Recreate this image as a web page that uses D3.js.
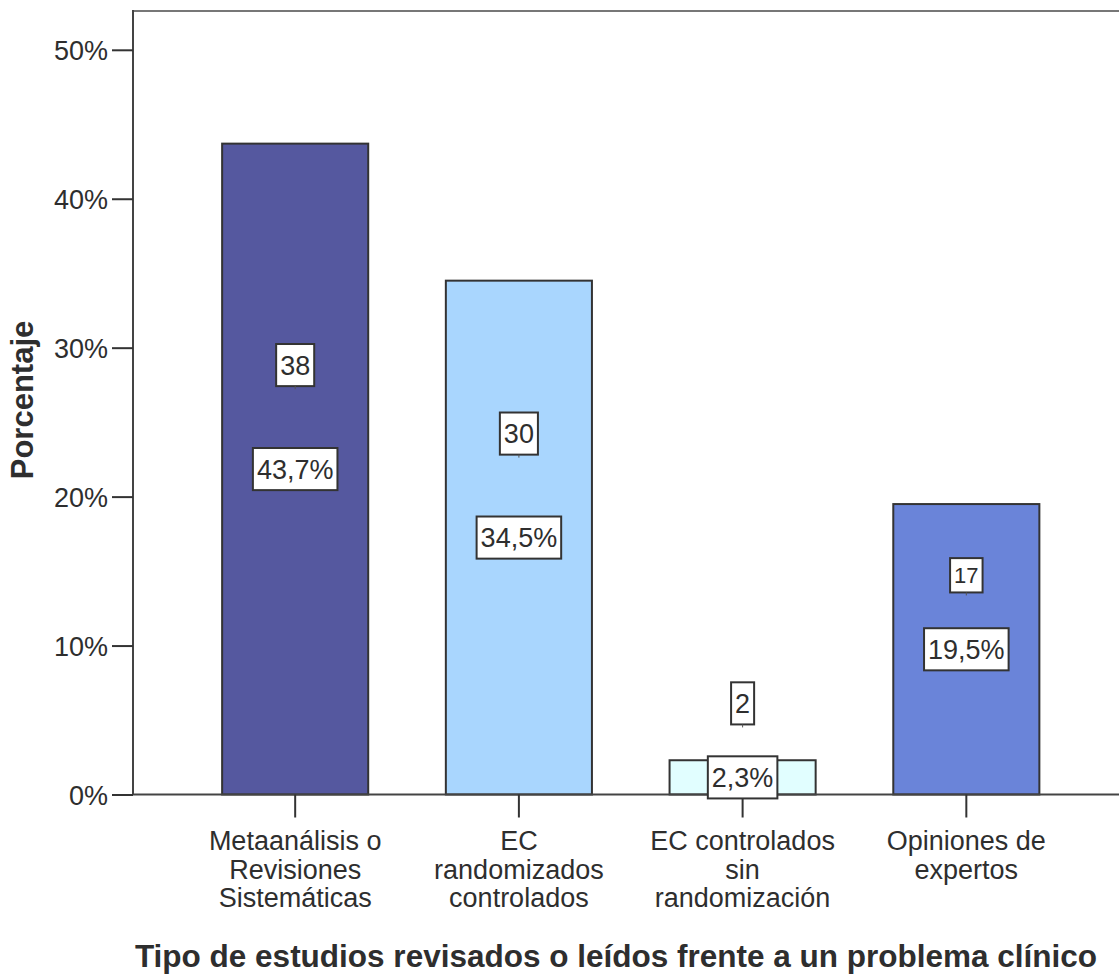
<!DOCTYPE html>
<html>
<head>
<meta charset="utf-8">
<script src="https://cdn.jsdelivr.net/npm/d3@7"></script>
<style>
  html, body { margin: 0; padding: 0; background: #fff; }
  svg { display: block; }
  text { font-family: "Liberation Sans", Arial, sans-serif; fill: #2e2e2e; }
</style>
</head>
<body>
<svg id="chart" width="1119" height="975"></svg>
<script>
// Tipo de estudios revisados o leídos frente a un problema clínico
const categories = [
  ["Metaanálisis o", "Revisiones", "Sistemáticas"],
  ["EC", "randomizados", "controlados"],
  ["EC controlados", "sin", "randomización"],
  ["Opiniones de", "expertos"]
];
const counts = [38, 30, 2, 17];
const percents = [43.7, 34.5, 2.3, 19.5];
const yTicks = [0, 10, 20, 30, 40, 50];

// appearance
const barColors = ["#55589f", "#a9d6fe", "#e1feff", "#6a84d9"];
const countGap = [104, 104, 74, 74];
const countFont = [27, 27, 27, 22];

const svg = d3.select("#chart");
const plotLeft = 133, plotRight = 1119, plotTop = 11, plotBottom = 794.5;

const x = d3.scaleBand()
  .domain(d3.range(categories.length))
  .range([144.5, 1117])
  .padding(0.347);

const y = d3.scaleLinear().domain([0, 50]).range([plotBottom, 49.8]);

// frame: top border, left axis, baseline
svg.append("line").attr("x1", plotLeft).attr("x2", plotRight).attr("y1", plotTop).attr("y2", plotTop)
  .attr("stroke", "#777").attr("stroke-width", 2);
svg.append("line").attr("x1", plotLeft).attr("x2", plotLeft).attr("y1", plotTop - 1).attr("y2", plotBottom)
  .attr("stroke", "#444").attr("stroke-width", 2);

// bars
svg.append("g").selectAll("rect").data(percents).join("rect")
  .attr("x", (d, i) => x(i))
  .attr("y", d => y(d))
  .attr("width", x.bandwidth())
  .attr("height", d => y(0) - y(d))
  .attr("fill", (d, i) => barColors[i])
  .attr("stroke", "#333")
  .attr("stroke-width", 2);

svg.append("line").attr("x1", plotLeft).attr("x2", plotRight).attr("y1", plotBottom).attr("y2", plotBottom)
  .attr("stroke", "#444").attr("stroke-width", 2);

// y axis
const yAxis = d3.axisLeft(y).tickValues(yTicks).tickFormat(d => d + "%")
  .tickSize(21).tickPadding(4);
const gy = svg.append("g").attr("transform", `translate(${plotLeft},0)`).call(yAxis);
gy.select(".domain").remove();
gy.selectAll(".tick line").attr("stroke", "#333").attr("stroke-width", 2);
gy.selectAll(".tick text").attr("font-size", 27).attr("fill", "#2e2e2e")
  .attr("font-family", "Liberation Sans, Arial, sans-serif").attr("dy", "0.36em");

// x axis
const xAxis = d3.axisBottom(x).tickSize(23).tickFormat(() => "");
const gx = svg.append("g").attr("transform", `translate(0,${plotBottom})`).call(xAxis);
gx.select(".domain").remove();
gx.selectAll(".tick line").attr("stroke", "#333").attr("stroke-width", 2);

// category labels
const catG = svg.append("g");
categories.forEach((lines, i) => {
  const cx = x(i) + x.bandwidth() / 2;
  const t = catG.append("text")
    .attr("x", cx)
    .attr("y", 850)
    .attr("text-anchor", "middle")
    .attr("font-size", 27);
  lines.forEach((ln, j) => {
    t.append("tspan").attr("x", cx).attr("dy", j === 0 ? 0 : 28.5).text(ln);
  });
});

// boxed value labels
function boxLabel(g, cx, cy, str, size) {
  const t = g.append("text")
    .attr("x", cx).attr("y", cy + size * 0.36)
    .attr("text-anchor", "middle")
    .attr("font-size", size)
    .text(str);
  const w = t.node().getComputedTextLength() + 8;
  const h = size * 1.56;
  g.insert("rect", "text")
    .attr("x", cx - w / 2).attr("y", cy - h / 2)
    .attr("width", w).attr("height", h)
    .attr("fill", "#fff").attr("stroke", "#333").attr("stroke-width", 2);
  return h;
}

const fmt = v => v.toFixed(1).replace(".", ",") + "%";
percents.forEach((p, i) => {
  const cx = x(i) + x.bandwidth() / 2;
  const pcY = (y(p) + y(0)) / 2;
  const g1 = svg.append("g");
  boxLabel(g1, cx, pcY, fmt(p), 27);
  const g2 = svg.append("g");
  const cY = pcY - countGap[i];
  const h = boxLabel(g2, cx, cY, String(counts[i]), countFont[i]);
  g2.append("line").attr("x1", cx).attr("x2", cx)
    .attr("y1", cY + h / 2).attr("y2", cY + h / 2 + 3)
    .attr("stroke", "#555").attr("stroke-width", 1);
});

// axis titles
svg.append("text")
  .attr("transform", "translate(33,400) rotate(-90)")
  .attr("text-anchor", "middle")
  .attr("font-size", 31)
  .attr("font-weight", "bold")
  .text("Porcentaje");

svg.append("text")
  .attr("x", 616).attr("y", 967)
  .attr("text-anchor", "middle")
  .attr("font-size", 31.5)
  .attr("font-weight", "bold")
  .text("Tipo de estudios revisados o leídos frente a un problema clínico");
</script>
</body>
</html>
